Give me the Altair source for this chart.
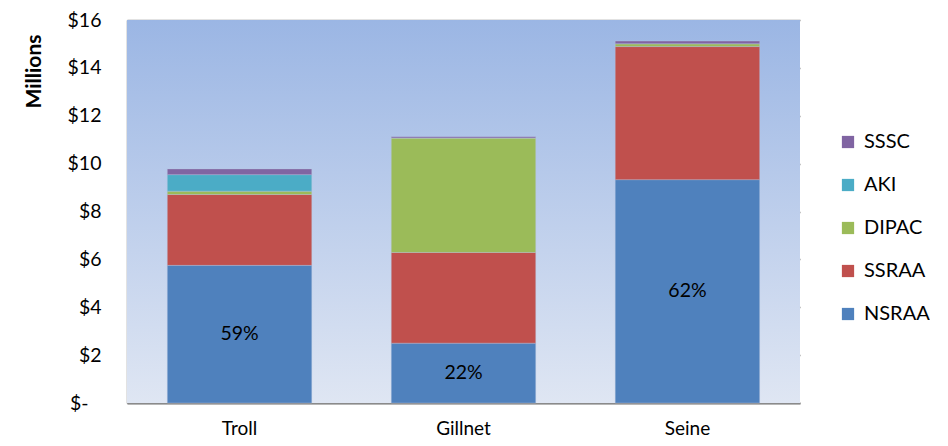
import altair as alt
import pandas as pd

gears = ["Troll", "Gillnet", "Seine"]
series = ["SSSC", "AKI", "DIPAC", "SSRAA", "NSRAA"]
colors = ["#8064A2", "#4BACC6", "#9BBB59", "#C0504D", "#4F81BD"]
stack_order = {"NSRAA": 0, "SSRAA": 1, "DIPAC": 2, "AKI": 3, "SSSC": 4}

nsraa = [5.75, 2.50, 9.33]
ssraa = [2.96, 3.79, 5.56]
dipac = [0.14, 4.78, 0.12]
aki = [0.69, 0.00, 0.00]
sssc = [0.24, 0.05, 0.11]
pct_labels = ["59%", "22%", "62%"]

rows = []
for i, g in enumerate(gears):
    for s, vals in zip(["NSRAA", "SSRAA", "DIPAC", "AKI", "SSSC"], [nsraa, ssraa, dipac, aki, sssc]):
        rows.append({"gear": g, "agency": s, "value": vals[i], "ord": stack_order[s]})
df = pd.DataFrame(rows)

lab = pd.DataFrame({"gear": gears, "mid": [v / 2 for v in nsraa], "pct": pct_labels})

W, H = 673, 383
FONT = "Lato"

bg = alt.Chart(alt.Data(values=[{}])).mark_rect(
    fill=alt.Gradient(
        gradient="linear",
        stops=[alt.GradientStop(color="#9BB6E4", offset=0),
               alt.GradientStop(color="#DFE6F3", offset=1)],
        x1=0, x2=0, y1=0, y2=1,
    )
).encode(x=alt.value(0), x2=alt.value(W), y=alt.value(0), y2=alt.value(H))

bars = alt.Chart(df).mark_bar(stroke="#B8C8E0", strokeWidth=0.6, strokeOpacity=0.6).encode(
    x=alt.X("gear:N", sort=gears, title=None,
            scale=alt.Scale(paddingInner=0.355, paddingOuter=0.18),
            axis=alt.Axis(labelAngle=0, labelFontSize=19, labelFont=FONT, labelColor="#000",
                          ticks=False, labelPadding=16, domainColor="#8a8a8a", domainWidth=2,
                          grid=False)),
    y=alt.Y("value:Q", stack="zero", title="Millions",
            scale=alt.Scale(domain=[0, 16], nice=False),
            axis=alt.Axis(values=list(range(0, 17, 2)),
                          labelExpr="datum.value == 0 ? '$-' : '$' + datum.value",
                          labelPadding={"condition": {"test": "datum.value == 0", "value": 39},
                                        "value": 26},
                          labelFontSize=19.5, labelFont=FONT, labelColor="#000", ticks=False,
                          domainColor="#8a8a8a", domainWidth=1.5,
                          gridColor="#8a8a8a", gridWidth=1.5,
                          titleFont=FONT, titleFontSize=21, titleFontWeight="bold",
                          titleColor="#000", titleAngle=270, titleAlign="right",
                          titleBaseline="bottom", titleX=-83, titleY=14)),
    color=alt.Color("agency:N", scale=alt.Scale(domain=series, range=colors),
                    legend=alt.Legend(title=None, orient="none", legendX=711, legendY=112,
                                      symbolType="square", symbolSize=150,
                                      symbolStrokeWidth=0, labelFont=FONT,
                                      labelFontSize=20, labelColor="#000",
                                      rowPadding=23, labelOffset=6)),
    order=alt.Order("ord:Q", sort="ascending"),
)

texts = alt.Chart(lab).mark_text(fontSize=19.5, font=FONT, color="#000").encode(
    x=alt.X("gear:N", sort=gears),
    y=alt.Y("mid:Q"),
    text="pct:N",
)

chart = alt.layer(bg, bars, texts).properties(
    width=W, height=H,
    autosize=alt.AutoSizeParams(type="none"),
    padding={"left": 119, "top": 12, "right": 130, "bottom": 35},
    background="white",
).configure_view(stroke=None)

chart.save("out.html", embed_options={"renderer": "svg", "actions": False})
